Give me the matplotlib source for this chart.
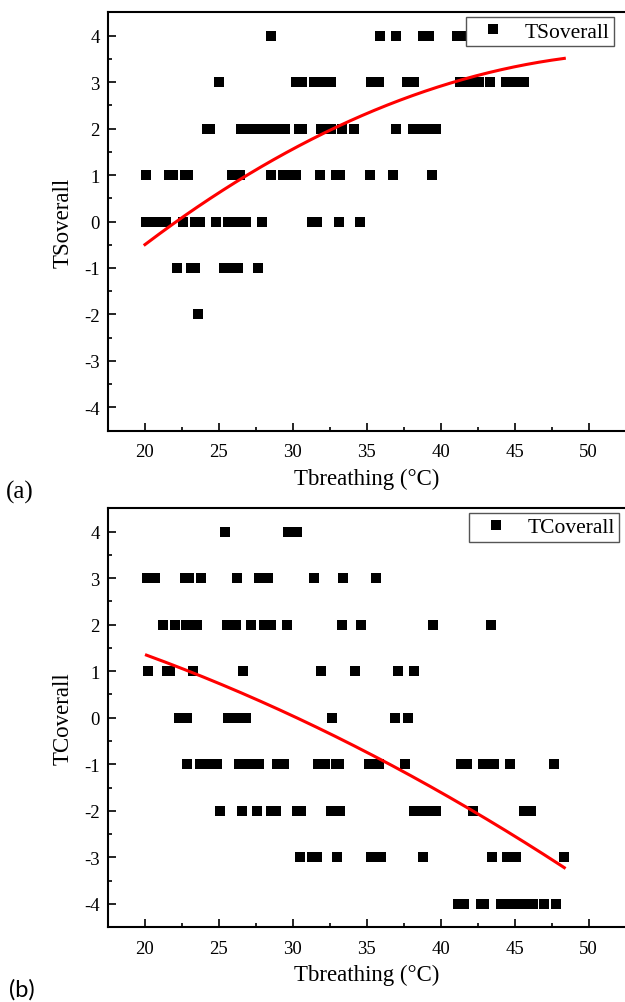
import numpy as np
import matplotlib
matplotlib.use("Agg")
import matplotlib.pyplot as plt
from matplotlib.ticker import MultipleLocator

plt.rcParams['font.family'] = ['Liberation Serif', 'DejaVu Serif']
plt.rcParams['axes.unicode_minus'] = False

# (a) thermal sensation vs breathing air temperature, one list per vote level
ts_x = {
    4: [28.5, 35.9, 37.0, 38.8, 39.2, 41.1, 41.5],
    3: [25.0, 30.2, 30.6, 31.4, 32.0, 32.6, 35.3, 35.8, 37.7, 38.2,
        41.3, 41.9, 42.6, 43.3, 44.4, 45.0, 45.6],
    2: [24.2, 24.4, 26.5, 27.1, 27.7, 28.3, 28.9, 29.5, 30.4, 30.6,
        31.9, 32.6, 33.3, 34.1, 37.0, 38.1, 38.8, 39.35, 39.7],
    1: [20.1, 21.6, 21.9, 22.7, 22.9, 25.9, 26.45, 28.5, 29.35, 29.8,
        30.2, 31.8, 32.9, 33.2, 35.2, 36.8, 39.4],
    0: [20.1, 20.6, 21.1, 21.45, 22.6, 23.4, 23.7, 24.8, 25.6, 26.0,
        26.5, 26.85, 27.9, 31.3, 31.65, 33.1, 34.55],
    -1: [22.15, 23.1, 23.4, 25.35, 25.8, 26.3, 27.65],
    -2: [23.6],
}
# fitted trend, points along the curve
ts_fit_x = [20.0, 24.57, 28.4, 32.68, 34.5, 41.03, 48.35]
ts_fit_y = [-0.47, 0.48, 1.27, 2.03, 2.26, 3.0, 3.51]

# (b) thermal comfort vs breathing air temperature
tc_x = {
    4: [25.4, 29.7, 30.3],
    3: [20.15, 20.7, 22.7, 23.0, 23.8, 26.25, 27.7, 28.3, 31.45, 33.4, 35.6],
    2: [21.2, 22.0, 22.8, 23.1, 23.5, 25.55, 26.15, 27.2, 28.05, 28.55,
        29.6, 33.35, 34.6, 39.45, 43.4],
    1: [20.2, 21.5, 21.7, 23.25, 26.6, 31.9, 34.2, 37.1, 38.2],
    0: [22.3, 22.85, 25.6, 26.2, 26.8, 32.65, 36.9, 37.8],
    -1: [22.85, 23.7, 24.3, 24.85, 26.35, 27.0, 27.7, 28.9, 29.4, 31.7,
         32.2, 32.9, 33.15, 35.15, 35.5, 35.85, 37.6, 41.35, 41.75, 42.85,
         43.25, 43.6, 44.7, 47.65],
    -2: [25.1, 26.55, 27.6, 28.5, 28.85, 30.3, 30.55, 32.6, 33.2, 38.2,
         38.75, 39.25, 39.65, 42.15, 45.6, 46.1],
    -3: [30.45, 31.3, 31.6, 32.95, 35.3, 35.6, 35.95, 38.8, 43.45, 44.45,
         45.1, 48.3],
    -4: [41.15, 41.6, 42.75, 42.95, 44.05, 44.6, 45.1, 45.65, 46.2, 47.0, 47.8],
}
tc_fit_x = [20.1, 23.0, 31.8, 36.74, 42.15, 48.35]
tc_fit_y = [1.355, 0.98, -0.23, -1.03, -2.0, -3.22]

xticks = [20, 25, 30, 35, 40, 45, 50]
yticks = [-4, -3, -2, -1, 0, 1, 2, 3, 4]


def flatten(groups):
    xs, ys = [], []
    for level, vals in groups.items():
        xs += vals
        ys += [level] * len(vals)
    return np.array(xs), np.array(ys)


def draw_panel(ax, groups, fit_x, fit_y, name, legend_anchor):
    x, y = flatten(groups)
    ax.plot(x, y, 's', color='black', ms=7.2, mew=0, label=name, zorder=3)

    # smooth quadratic through the trend points
    coef = np.polyfit(fit_x, fit_y, 2)
    xx = np.linspace(min(fit_x), max(fit_x), 200)
    ax.plot(xx, np.polyval(coef, xx), color='red', lw=2.2, zorder=4)

    ax.set_xlim(17.5, 52.5)
    ax.set_ylim(-4.5, 4.5)
    ax.set_xticks(xticks)
    ax.set_yticks(yticks)
    ax.xaxis.set_minor_locator(MultipleLocator(2.5))
    ax.yaxis.set_minor_locator(MultipleLocator(0.5))
    ax.tick_params(which='both', direction='in', width=1.2, labelsize=13.5)
    ax.tick_params(which='major', length=6, pad=6)
    ax.tick_params(which='minor', length=3)
    ax.tick_params(axis='x', which='major', pad=9)
    ax.spines['right'].set_visible(False)
    for s in ['left', 'bottom', 'top']:
        ax.spines[s].set_linewidth(1.5)

    ax.set_xlabel('Tbreathing (°C)', fontsize=16.5)
    ax.set_ylabel(name, fontsize=16.5)
    ax.xaxis.set_label_coords(0.5, -0.088)
    ax.yaxis.set_label_coords(-0.066, 0.5)

    leg = ax.legend(loc='upper right', bbox_to_anchor=legend_anchor,
                    borderaxespad=0, fontsize=15.5, fancybox=False,
                    numpoints=1, handlelength=2.1, handletextpad=0.4,
                    borderpad=0.2, framealpha=1)
    leg.get_frame().set_edgecolor('#555555')
    leg.get_frame().set_linewidth(1.0)


fig = plt.figure(figsize=(6.25, 10.03), dpi=100)
ax1 = fig.add_axes([0.1728, 0.5696, 0.8283, 0.4171])
ax2 = fig.add_axes([0.1728, 0.0745, 0.8283, 0.4178])

draw_panel(ax1, ts_x, ts_fit_x, ts_fit_y, 'TSoverall', (0.977, 0.988))
draw_panel(ax2, tc_x, tc_fit_x, tc_fit_y, 'TCoverall', (0.987, 0.989))

fig.text(0.010, 1 - 492 / 1003, '(a)', fontsize=18, va='center')
fig.text(0.015, 1 - 990 / 1003, '(b)', fontsize=17, family=['Lato'], va='center')

fig.savefig('out.png', dpi=100)
